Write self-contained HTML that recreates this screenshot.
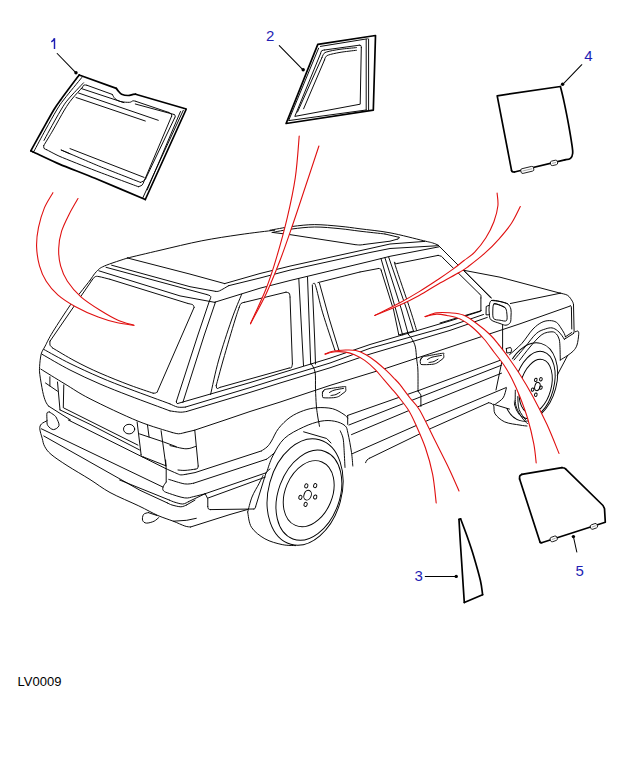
<!DOCTYPE html>
<html><head><meta charset="utf-8"><style>
html,body{margin:0;padding:0;background:#fff;width:626px;height:779px;overflow:hidden}
svg{position:absolute;left:0;top:0}
.k{fill:none;stroke:#000;stroke-width:0.95;stroke-linejoin:round;stroke-linecap:round}
.k2{fill:none;stroke:#000;stroke-width:1.7;stroke-linejoin:round;stroke-linecap:round}
.k3{fill:none;stroke:#000;stroke-width:1.05;stroke-linejoin:round;stroke-linecap:round}
.r{fill:none;stroke:#e01010;stroke-width:1.1;stroke-linecap:round}
.b{fill:#000;stroke:none}
.rf{fill:#fff;stroke:none}
.kf{fill:#fff;stroke:#000;stroke-width:0.85;stroke-linejoin:round}
text{font-family:"Liberation Sans",sans-serif}
.lab{fill:#1e1eb4;font-size:15px}
.code{fill:#000;font-size:13px}
</style></head><body>
<svg width="626" height="779" viewBox="0 0 626 779">
<ellipse class="k" cx="129.1" cy="429.1" rx="5.6" ry="4.8" transform="rotate(0 129.1 429.1)"/>
<path fill="#fff" stroke="none" d="M519.5,360.5C521.2,358.2 526.3,351.3 530,347C533.7,342.7 538.2,337.1 541.9,334.6C545.6,332.1 549.6,331.9 552,331.8C554.4,331.7 555.3,333 556.4,334C557.5,335 558.1,336.4 558.7,338C559.3,339.6 559.5,339.8 559.8,343.5C560.1,347.2 560.2,357.2 560.3,360L575,360L575,320L510,320L510,360.5Z"/>
<ellipse class="k" cx="530.5" cy="382" rx="26" ry="40" transform="rotate(15 530.5 382)"/>
<ellipse class="k" cx="534.3" cy="385" rx="19.5" ry="34.5" transform="rotate(15 534.3 385)"/>
<ellipse class="k" cx="535.7" cy="386.2" rx="15.5" ry="27.5" transform="rotate(15 535.7 386.2)"/>
<ellipse class="k" cx="537.4" cy="386.5" rx="2.6" ry="4.2" transform="rotate(15 537.4 386.5)"/>
<ellipse class="k" cx="535.8" cy="379.9" rx="1.3" ry="1.7" transform="rotate(15 535.8 379.9)"/>
<ellipse class="k" cx="540.9" cy="379.3" rx="1.3" ry="1.7" transform="rotate(15 540.9 379.3)"/>
<ellipse class="k" cx="540.9" cy="387.6" rx="1.3" ry="1.7" transform="rotate(15 540.9 387.6)"/>
<ellipse class="k" cx="535.8" cy="394.7" rx="1.3" ry="1.7" transform="rotate(15 535.8 394.7)"/>
<ellipse class="k" cx="532.6" cy="389.6" rx="1.3" ry="1.7" transform="rotate(15 532.6 389.6)"/>
<path fill="#fff" stroke="none" d="M519.5,360.5L505,358L498,408L513,408L515,392L517,372Z"/>
<ellipse class="k" cx="305.1" cy="492" rx="36.5" ry="54.2" transform="rotate(15.3 305.1 492)"/>
<ellipse class="k" cx="308.9" cy="495.2" rx="30.6" ry="46.6" transform="rotate(20.1 308.9 495.2)"/>
<ellipse class="k" cx="308.7" cy="493.7" rx="23.5" ry="34.4" transform="rotate(22.7 308.7 493.7)"/>
<ellipse class="k" cx="307.6" cy="495.2" rx="3.6" ry="5" transform="rotate(20 307.6 495.2)"/>
<ellipse class="k" cx="306.3" cy="485.9" rx="1.6" ry="2.1" transform="rotate(20 306.3 485.9)"/>
<ellipse class="k" cx="315.2" cy="485.6" rx="1.6" ry="2.1" transform="rotate(20 315.2 485.6)"/>
<ellipse class="k" cx="315.2" cy="497" rx="1.6" ry="2.1" transform="rotate(20 315.2 497)"/>
<ellipse class="k" cx="305.6" cy="504.4" rx="1.6" ry="2.1" transform="rotate(20 305.6 504.4)"/>
<ellipse class="k" cx="300.4" cy="497.3" rx="1.6" ry="2.1" transform="rotate(20 300.4 497.3)"/>
<path fill="#fff" stroke="none" d="M267,471.3C268,468.7 269.9,461.4 272.8,455.9C275.7,450.4 279.2,443.3 284.3,438.5C289.4,433.7 297.5,429.9 303.6,427C309.7,424.1 315.8,422.2 320.9,421.2C326,420.2 330.4,420.4 334.4,421.2C338.4,421.9 342.7,423.6 345,425.7C347.3,427.8 346.9,429 348,433.5C349.1,438 350.7,447.1 351.5,452.5C352.3,457.9 352.6,463.8 352.8,466L360,469.4L360,400L255,400L255,471.3Z"/>
<path class="k" d="M90,280.4C91.1,278.9 94,274 96.4,271.6C98.8,269.2 99.2,268.3 104.4,266C109.6,263.7 123.7,259.3 127.5,258"/>
<path class="k" d="M127.5,258C132.9,256.7 147.6,253.2 160,250.3C172.4,247.4 188.5,243.4 201.8,240.8C215.1,238.2 227.8,236.4 240,234.6C252.2,232.8 268.9,230.9 274.7,230.2"/>
<path class="k" d="M270,230.2C273.7,229.6 284.6,227.4 292,226.5C299.4,225.6 306.7,224.6 314.7,224.6C322.7,224.6 332.4,225.6 340,226.3C347.6,227 351.7,227.7 360,228.8C368.3,229.9 379.4,230.8 390,232.8C400.6,234.8 416.4,239 423.5,240.7C430.6,242.4 430.1,242.2 432.5,242.9C434.9,243.6 437.2,244.7 438.1,245.1"/>
<path class="k" d="M438.1,245.1 L457.1,264.1 L491.5,297.9"/>
<path class="k" d="M272,232.5C275.3,231.9 284.9,229.9 292,229C299.1,228.1 306.7,227.1 314.7,227C322.7,226.9 332.4,228 340,228.7C347.6,229.4 352.5,230.3 360,231.2C367.5,232.1 380.8,233.5 385,234"/>
<path class="k" d="M273,232.5 L289.2,234.5 L355,244.6"/>
<path class="k" d="M355,244.6C355.8,244.7 358.5,245 360,245C361.5,245 363.3,244.6 364,244.5"/>
<path class="k" d="M364,244.5 L390,241.2 L397.8,239"/>
<path class="k" d="M397.8,239C398.1,238.8 399.3,238.1 399.5,237.8C399.7,237.5 399,237.4 398.9,237.3"/>
<path class="k" d="M398.9,237.3 L385,234"/>
<path class="k" d="M127.5,258 L190,274.1 L224.7,283.6"/>
<path class="k" d="M224.7,283.6 L260,273.5 L290,266.1 L370,248.5 L390,244 L424.7,241.4"/>
<path class="k" d="M228.6,285.7 L260,278 L290,270.1 L370,252.5 L390,248.5 L438.1,245.7"/>
<path class="k" d="M214.5,302.3 L260,288.2 L290,280.5 L370,261.3 L390,256.3 L439.2,246.8"/>
<path class="k" d="M111.6,265.2 L190,286.7 L215.8,291.4"/>
<path class="k" d="M215.8,291.4C216.4,291.3 217.5,291.8 219.6,290.8C221.7,289.9 227.1,286.6 228.6,285.7"/>
<path class="k" d="M106,267.3 L190,290 L207,294.6"/>
<path class="k" d="M207,294.6C207.6,294.9 210.3,295.4 210.7,296.5C211.1,297.6 209.6,300.2 209.4,301"/>
<path class="k" d="M209.4,301 L197.9,335 L176.4,401.3"/>
<path class="k" d="M176.4,401.3C176.4,401.6 176.4,402.6 176.6,403C176.8,403.4 177.5,403.4 177.7,403.5"/>
<path class="k" d="M98.8,270.8 L180,295.9 L214.5,302.3"/>
<path class="k" d="M215.5,302 L204.3,335 L182.8,402.6"/>
<path class="k" d="M90,280.4C88.3,282.5 83.2,289 80,293C76.8,297 75.3,297.8 70.8,304.3C66.3,310.8 57.1,324.9 52.8,331.9C48.5,338.8 47.1,342.3 45.2,346C43.3,349.7 42.1,350.6 41.2,354C40.3,357.4 39.8,363.3 39.6,366.7C39.4,370.1 39.3,370.2 39.8,374.4C40.3,378.5 41.8,387.1 42.7,391.6C43.7,396.1 44.5,398.8 45.5,401.2C46.5,403.6 47.9,405.2 48.4,406"/>
<path class="k" d="M110,279.3C108.2,278.9 101.5,277 99,276.6C96.5,276.2 96.3,276.2 95.2,276.7C94.1,277.1 93,278.9 92.6,279.3"/>
<path class="k" d="M92.6,279.3 L50,341.2"/>
<path class="k" d="M50,341.2C50,341.9 49.6,344.1 50,345.2C50.4,346.3 52,347.2 52.4,347.6"/>
<path class="k" d="M52.4,347.9C56.2,350.1 67.1,356.8 75,361C82.9,365.2 90.8,369.1 100,373.1C109.2,377.1 121.1,381.9 130,385.2C138.9,388.5 149.3,391.9 153.2,393.2"/>
<path class="k" d="M153.2,393.2C153.6,393.2 154.8,393.2 155.5,393C156.2,392.8 156.9,392.2 157.2,392"/>
<path class="k" d="M157.2,392 L194.1,307.4"/>
<path class="k" d="M194.1,307.4C193.9,307 193.8,305.4 192.8,304.8C191.8,304.2 188.8,303.7 188,303.5"/>
<path class="k" d="M188,303.5 L110,279.3"/>
<path class="k" d="M43.8,349.4C48.2,351.8 60.6,358.9 70,363.5C79.4,368.1 90,373 100,377.3C110,381.6 118.3,384.8 130,389.2C141.7,393.6 163.3,401.4 170,403.9"/>
<path class="k" d="M170,403.9C171.3,404.4 175.1,406.6 177.7,407.1C180.2,407.6 184,407.1 185.3,407.1"/>
<path class="k" d="M42.3,354.4C46.9,357 60.4,365.1 70,370C79.6,374.9 90,379.7 100,384C110,388.3 118.3,391.5 130,396C141.7,400.5 163.3,408.4 170,410.9"/>
<path class="k" d="M170,410.9C171.7,411.1 177.4,412.1 180.2,412.2C183,412.3 185.5,411.6 186.6,411.5"/>
<path class="k" d="M40.8,369.1C44.8,371.6 56.8,379.1 65,384C73.2,388.9 77.8,392.6 90,398.8C102.2,405 124.2,415.5 137.9,421.1C151.6,426.7 166.5,430.6 172.2,432.5"/>
<path class="k" d="M172.2,432.5C173.3,432.7 176.5,433.8 178.6,433.8C180.7,433.8 183.9,432.7 185,432.5"/>
<path class="k" d="M185,432.5 L194.2,430.3"/>
<path class="k" d="M49.9,376.8 L49.9,385.9"/>
<path class="k" d="M45.5,383 L57.5,391.2"/>
<path class="k" d="M57.5,382 L60,409.9"/>
<path class="k" d="M63.8,384.9 L63.3,407.5"/>
<path class="k" d="M63.8,408 L137.9,445.1"/>
<path class="k" d="M60,409.9 L90,424.3 L139.5,449.9"/>
<path class="k" d="M137.1,421.9 L141.1,454.7"/>
<path class="k" d="M141.1,454.7C141.2,455 141.1,456.1 141.5,456.5C141.9,456.9 143.2,456.9 143.5,457"/>
<path class="k" d="M143.5,457 L165.9,465.8"/>
<path class="k" d="M147.5,425.1 L149.1,437.1"/>
<path class="k" d="M161.1,430.7 L165.9,465.8"/>
<path class="k" d="M139.5,433.9 L163.5,441.9 L176.3,446.7"/>
<path class="k" d="M49.4,412C49,412.2 47.4,411.7 47,413C46.6,414.3 46.9,417.9 47,420C47.1,422.1 46.7,424 47.8,425.6C48.9,427.2 51.5,429.6 53.4,429.6C55.3,429.6 58.5,427.5 59,425.6C59.5,423.7 57.3,419.7 56.5,418C55.7,416.3 55.4,416.2 54.2,415.2C53,414.2 50.2,412.5 49.4,412"/>
<path class="k" d="M47,420.8C46.1,421.3 42.6,422.7 41.4,424C40.2,425.3 39.7,426.4 39.8,428.8C39.9,431.2 41.4,435.4 42.2,438.3C43,441.2 43.1,443.6 44.6,446.3C46.1,449 47.3,451.1 51,454.3C54.7,457.5 60.5,461.3 67,465.5C73.5,469.7 82.8,475 90,479.5C97.2,484 101.9,488.1 110,492.5C118.1,496.9 130.8,502.1 138.8,505.9C146.8,509.7 152.2,513 157.9,515.5C163.7,518 168.8,519.5 173.3,521.2C177.8,523 181.9,525 184.8,526C187.7,527 189.6,526.8 190.5,527"/>
<path class="k" d="M190.5,527 L230,514.5 L247.5,509.5"/>
<path class="k" d="M41.4,428.8 L163,487.1"/>
<path class="k" d="M43.8,436 L140,490.3 L167.5,503"/>
<path class="k" d="M167.5,503C168.2,503.3 169.8,504.4 172,505C174.2,505.6 178.5,506.8 180.9,506.8C183.3,506.8 185.7,505.2 186.7,504.9"/>
<path class="k" d="M186.7,504.9 L195,500.1"/>
<path class="k" d="M119.6,480 L169.4,500.1"/>
<path class="k" d="M169.4,500.1C170.3,500.5 172.8,501.7 175,502.3C177.2,502.9 180.5,504.1 182.8,504C185.1,503.9 187.6,502 188.6,501.6"/>
<path class="k" d="M188.6,501.6 L205.2,493.7"/>
<path class="k" d="M68.3,420 L165.6,468.5"/>
<path class="k" d="M165.6,468.5C167.5,469.4 174.5,472.5 177.1,473.6C179.7,474.7 179.4,474.8 180.9,474.9C182.4,475 185.2,474.4 186,474.3"/>
<path class="k" d="M186,474.3 L195,472.6 L261.5,450.9"/>
<path class="k" d="M261.5,450.9C262.4,450.2 265.3,448.6 267,447C268.7,445.4 269.6,444.1 271.5,441C273.4,437.9 275.4,432.4 278.5,428.5C281.6,424.6 285.9,420.3 290.1,417.3C294.3,414.3 299.1,412.2 303.6,410.6C308.1,409 312.3,408 317.1,407.7C321.9,407.4 328,407.6 332.5,408.7C337,409.8 341.5,412.9 344,414.5C346.5,416.1 347.1,417.4 347.7,418"/>
<path class="k" d="M347.7,415.4 L347.7,424.4"/>
<path class="k" d="M48.4,406 L70.5,420"/>
<path class="k" d="M173.3,521.2 L186.7,520.3 L196.3,518.3"/>
<path class="k" d="M148.3,512.6C147.5,512.9 144.4,513.2 143.5,514.5C142.6,515.8 142.1,518.9 142.6,520.3C143.1,521.7 144.5,523 146.4,523.1C148.3,523.2 152,522.2 154.1,521.2C156.2,520.2 158.1,518 158.9,517.4"/>
<path class="k" d="M148.3,512.6 L157,515.5"/>
<path class="k" d="M239.1,307.6C239.4,306.9 240.1,304.4 241,303.5C241.9,302.6 243.9,302.5 244.5,302.3"/>
<path class="k" d="M244.5,302.3 L286,292.2"/>
<path class="k" d="M286,292.2C286.5,292.4 288.5,292.4 289.2,293.2C289.9,294 289.9,296.4 290,297"/>
<path class="k" d="M290,297 L292.4,364"/>
<path class="k" d="M292.4,364C292.2,364.6 292,366.8 291.5,367.5C291,368.2 289.6,367.9 289.2,368"/>
<path class="k" d="M289.2,368 L219.9,387.4"/>
<path class="k" d="M219.9,387.4C219.4,387.6 217.6,388.8 217,388.5C216.4,388.2 216.3,386 216.2,385.5"/>
<path class="k" d="M216.2,385.5C217.4,381.2 220.1,370.9 223.2,360C226.3,349.1 232.3,328.7 235,320C237.7,311.3 238.4,309.7 239.1,307.6"/>
<path class="k" d="M241.7,294.2C240,298.5 235.3,309 231.5,320C227.7,331 222.2,347.6 218.7,360C215.2,372.4 211.9,388.8 210.6,394.5"/>
<path class="k" d="M298.8,278.6 L303.5,365.6"/>
<path class="k" d="M307.5,277 L310.7,364"/>
<path class="k" d="M312.3,285 L314.7,340 L315.5,364"/>
<path class="k" d="M313.1,284.2C313.5,284.4 313.9,280.7 315.5,285.5C317.1,290.3 319.5,302.2 322.7,312.9C325.9,323.6 332.7,343.6 334.7,349.7"/>
<path class="k" d="M319.5,283.4 L329,318 L338.7,349.7"/>
<path class="k" d="M334.7,349.7 L335.6,351.6 L338.9,351.2 L338.7,349.7"/>
<path class="k" d="M317.9,282.6 L360,272"/>
<path class="k" d="M360,272 L378.5,268.5"/>
<path class="k" d="M378.5,268.5C378.9,268.6 380.2,268.6 380.6,268.9C381.1,269.2 381.1,270.2 381.2,270.5"/>
<path class="k" d="M381.2,270.5 L393.6,310 L398.8,334.9"/>
<path class="k" d="M381,258.6 L395.9,310 L402.6,334.9"/>
<path class="k" d="M384.9,257.7 L401.6,310 L408.3,334.3"/>
<path class="k" d="M388.7,257.2 L406.9,310 L413.5,331.1"/>
<path class="k" d="M416.6,330.4C415.6,327 413.8,320.8 410.3,310C406.8,299.2 397.8,273.5 395.4,265.8C393,258.1 395.5,264.3 395.9,263.9C396.3,263.5 397.5,263.5 397.8,263.4"/>
<path class="k" d="M397.8,263.4 L438.1,255.4"/>
<path class="k" d="M438.1,255.4C438.7,255.6 440.6,255.9 441.4,256.3C442.2,256.7 442.7,257.7 443,258"/>
<path class="k" d="M443,258 L479.5,293.9"/>
<path class="k" d="M479.5,293.9C479.7,294.2 480.7,294.8 480.9,295.5C481.1,296.2 480.9,297.6 480.9,298"/>
<path class="k" d="M480.9,298 L480.9,310.3"/>
<path class="k" d="M480.9,310.3C480.8,310.5 480.7,311.1 480.5,311.3C480.3,311.5 479.8,311.6 479.6,311.6"/>
<path class="k" d="M177.7,403.5 L250,382.6 L280,373.4 L330,358.2 L370,344.5 L450,320.9 L479.6,311.6"/>
<path class="k" d="M185.3,407.1 L250,387.6 L280,378.2 L330,363 L370,348.3 L450,326 L483.5,314.5"/>
<path class="k" d="M186.6,411.5 L250,392.4 L280,383 L330,367.8 L370,354.1 L450,330.4 L487.3,317.4"/>
<path class="k" d="M398.8,334.9 L413.5,331.1"/>
<path class="k" d="M194.2,430.3 L225,420 L250,411.5 L280,402.1 L330,385.4 L386.6,368.1 L450,347.1 L520,323.8 L570.3,306"/>
<path class="k" d="M311.2,363.8C311.9,365.2 314.4,367.9 315.1,372.2C315.8,376.4 315.3,383.8 315.5,389.3C315.7,394.8 316,400.7 316.3,405C316.6,409.3 317,411.4 317.5,415C318,418.6 319.2,424.4 319.5,426.3"/>
<path class="k" d="M408.3,334.3C408.9,335.1 411,337.3 412.2,339.4C413.4,341.5 414.7,343.9 415.4,347.1C416.1,350.3 416.2,354.8 416.6,358.6C417,362.4 417.7,364.6 417.9,370C418.1,375.4 418,387.6 418,391.1"/>
<path class="k" d="M418,391.1 L420.9,394.9 L420.9,406.4"/>
<path class="k" d="M502.6,325 L502.6,358"/>
<path class="k" d="M322.6,392.2C322.9,391.8 323.3,390.4 324.5,389.8C325.7,389.2 326.6,389.1 330,388.6C333.4,388.1 342,386.7 344.6,386.6C347.2,386.5 345.5,387.2 345.6,388C345.8,388.8 346.1,390.3 345.5,391.3C344.9,392.3 343.1,393.1 342,394C340.9,394.9 340,395.9 338.6,396.5C337.2,397.1 335.9,397.5 333.5,397.7C331.1,397.9 325.8,398 324,397.8C322.2,397.6 322.7,397.2 322.5,396.3C322.3,395.4 322.3,393.3 322.6,392.2C322.9,391.1 324.2,390.2 324.5,389.8"/>
<path class="k" d="M329.5,392.5C330.2,392.1 331.7,390.9 334,390.2C336.3,389.5 341.9,388.7 343.5,388.4"/>
<path class="k" d="M331,395.5C331.8,395.3 334.5,395.1 336,394.5C337.5,393.9 339.3,392.6 340,392.2"/>
<path class="k" d="M420.5,359.8C420.8,359.3 421.2,357.7 422.5,357C423.8,356.3 424.6,356.4 428,355.8C431.4,355.2 440,353.5 442.6,353.3C445.2,353.1 443.5,354 443.6,354.8C443.8,355.6 444.1,357 443.5,358C442.9,359 441.2,359.9 440,360.8C438.8,361.7 437.9,362.6 436.5,363.2C435.1,363.8 433.9,364.2 431.5,364.4C429.1,364.6 423.9,364.8 422,364.6C420.1,364.4 420.6,363.8 420.4,363C420.1,362.2 420.1,360.8 420.5,359.8C420.9,358.8 422.2,357.5 422.5,357"/>
<path class="k" d="M427.5,359.5C428.2,359.1 429.7,357.9 432,357.2C434.3,356.5 439.9,355.7 441.5,355.4"/>
<path class="k" d="M429,362.5C429.8,362.3 432.5,362.1 434,361.5C435.5,360.9 437.3,359.6 438,359.2"/>
<path class="k" d="M463.5,270 L490.7,297.9"/>
<path class="k" d="M464.3,270.4 L500,277.2 L559.9,293.1"/>
<path class="k" d="M559.9,293.1C561.2,293.5 565.6,294 567.7,295.4C569.8,296.8 571.3,299.7 572.3,301.2C573.3,302.7 573.3,304 573.5,304.6"/>
<path class="k" d="M573.5,304.6 L574.1,331"/>
<path class="k" d="M510.4,303.5 L560.8,293.1"/>
<path class="k" d="M570.3,305.6C570.4,305.8 571,306.1 571.2,306.5C571.4,306.9 571.4,307.8 571.4,308"/>
<path class="k" d="M571.4,308 L571.8,329"/>
<path class="k" d="M491.5,300.5C492.9,300.7 497.3,300.9 500,301.5C502.7,302.1 505.9,302.6 507.7,303.9C509.5,305.2 510.3,307.1 510.9,309.1C511.4,311.1 511.1,313.8 511,316C510.9,318.2 511.1,321 510.3,322.5C509.5,324 507.7,325 506,325.2C504.3,325.4 502.5,324.4 500,323.5C497.5,322.6 492.9,321.5 491.1,319.9C489.3,318.3 489.6,316.3 489.3,314C489,311.7 488.8,308.2 489.2,306C489.6,303.8 489.7,301.2 491.5,300.5C493.3,299.8 497.3,300.9 500,301.5C502.7,302.1 506.4,303.5 507.7,303.9"/>
<path class="k" d="M494,303.8C495,304 498.1,304.5 500,305.2C501.9,305.9 504.1,306.5 505.2,307.8C506.3,309.1 506.6,310.9 506.8,313C507,315.1 507.6,319.4 506.5,320.6C505.4,321.8 502.1,320.5 500,320.2C497.9,319.9 494.9,320.1 493.7,318.6C492.5,317.1 492.8,313.5 492.8,311C492.9,308.5 492.8,304.8 494,303.8C495.2,302.8 498.1,304.5 500,305.2C501.9,305.9 504.3,307.4 505.2,307.8"/>
<path class="k" d="M489.2,305.2 L486.2,306.5 L486,314.8 L489.2,314.8"/>
<path class="k" d="M481.1,310.7 L440,323"/>
<path class="k" d="M564.3,339.3 L573.8,333.3"/>
<path class="k" d="M565.4,336.8 L571.8,332.5"/>
<path class="k" d="M573.5,332.3C573.9,332.2 575.2,331.7 576,331.5C576.8,331.3 577.6,330.7 578.1,331.2C578.6,331.7 578.9,332.4 578.7,334.7C578.5,337 577.9,342.3 577,345C576.1,347.7 575,349.1 573.5,350.8C572,352.5 569.9,353.8 567.7,355.4C565.5,356.9 561.5,359.3 560.2,360.1"/>
<path class="k" d="M567.7,355.4 L557.3,375"/>
<path class="k" d="M509.5,354.7C511.6,352.8 517.9,347.8 521.8,343.5C525.7,339.2 529.6,332.5 533,329C536.4,325.5 539.1,323.7 541.9,322.3C544.7,320.9 547.3,320.6 549.7,320.6C552.1,320.6 554.5,321.1 556.4,322.3C558.3,323.5 559.6,326 560.9,327.9C562.2,329.8 563.5,332 564.3,333.5C565,335 565.2,336.2 565.4,336.8"/>
<path class="k" d="M514,360C515.9,357.8 521.4,351.3 525.1,346.9C528.8,342.5 532.9,336.5 536.3,333.5C539.7,330.5 542.7,329.9 545.3,329C547.9,328.1 550,327.6 552,327.9C554,328.2 555.9,329.4 557.6,330.7C559.3,332 560.9,334.3 562,335.7C563.1,337.1 563.9,338.7 564.3,339.3"/>
<path class="k" d="M519.5,360.5C521.2,358.2 526.3,351.3 530,347C533.7,342.7 538.2,337.1 541.9,334.6C545.6,332.1 549.6,331.9 552,331.8C554.4,331.7 555.3,333 556.4,334C557.5,335 558.1,336.4 558.7,338C559.3,339.6 559.5,339.8 559.8,343.5C560.1,347.2 560.2,357.2 560.3,360"/>
<path class="k" d="M515.3,390.2C515.4,392.8 514.8,401.1 515.9,405.6C517,410.1 519.8,414.2 521.7,417.2C523.6,420.2 526.5,422.5 527.5,423.6"/>
<path class="k" d="M517.8,396.6C518,398.8 517.8,405.6 519.1,409.5C520.4,413.4 524.4,418 525.5,419.7"/>
<path class="k" d="M347.7,415.4 L420,390 L499.9,360.4"/>
<path class="k" d="M348.9,425 L420,397.1 L501.5,365.2"/>
<path class="k" d="M351.5,434.6 L420,405.9 L501.5,373.2"/>
<path class="k" d="M352.1,453.8 L428,420.3 L506.3,387.5"/>
<path class="k" d="M365.6,462.7C365.8,462.2 366.4,460.7 367,460C367.6,459.3 369,458.6 369.4,458.3"/>
<path class="k" d="M369.4,458.3 L431.2,428.3 L488.7,402.7"/>
<path class="k" d="M488.7,402.7C489.5,403.1 492.4,403.2 493.5,405.1C494.6,407 493.2,411.1 495.1,413.9C497,416.7 500.6,420 504.7,421.9C508.8,423.8 516.3,424.4 520,425.1C523.7,425.8 525.8,425.9 527,426"/>
<path class="k" d="M493.5,404.3 L509.5,409.1"/>
<path class="k" d="M502.6,358 L496,390"/>
<path class="k" d="M506.3,388.3C505.8,389.9 504.9,395.3 503.1,397.9C501.3,400.5 496.8,403 495.5,404"/>
<path class="k" d="M506.3,348.5 L510.5,347.4 L511.6,349.5 L511,352.5 L506.8,353 L506.3,348.5"/>
<path class="k" d="M267,471.3C268,468.7 269.9,461.4 272.8,455.9C275.7,450.4 279.2,443.3 284.3,438.5C289.4,433.7 297.5,429.9 303.6,427C309.7,424.1 315.8,422.2 320.9,421.2C326,420.2 330.4,420.4 334.4,421.2C338.4,421.9 342.7,423.6 345,425.7C347.3,427.8 346.9,429 348,433.5C349.1,438 350.7,447.1 351.5,452.5C352.3,457.9 352.6,463.8 352.8,466"/>
<path class="k" d="M303.6,431.8 L326.7,438.5 L331,443"/>
<path class="k" d="M340.2,430.8C340.7,432 342.4,435.1 343,438C343.6,440.9 343.7,443.3 344,448.2C344.3,453.1 344.8,464.2 345,467.4"/>
<path class="k" d="M247.7,512C248.3,514.5 248.6,522.8 251.5,527.3C254.4,531.8 259.8,535.9 264.9,538.8C270,541.7 277.1,543.5 282.2,544.6C287.3,545.7 293.4,545.4 295.6,545.6"/>
<path class="k" d="M247.7,512C248.4,509.5 250.1,501.8 252,497C253.9,492.2 257.4,486.9 259.2,483.3C261,479.7 262.4,476.9 263,475.6"/>
<path class="k" d="M170,445.6C172.7,446.1 181.7,448.7 186,448.8C190.3,448.9 194,446.8 195.6,446.4"/>
<path class="k" d="M194.8,430.4 L198.2,466"/>
<path class="k" d="M198.2,466C198.1,466.4 198,468 197.5,468.5C197,469 195.4,469.1 195,469.2"/>
<path class="k" d="M195,469.2C193.3,469.4 187.8,470.3 185,470.4C182.2,470.5 179.2,470.1 178,470"/>
<path class="k" d="M165.6,460 L166.2,469.2 L166.2,482"/>
<path class="k" d="M166.2,482C165.7,482.9 163.4,485.6 163,487.1C162.6,488.6 162.5,489.8 163.6,490.9C164.7,492 165.9,492.3 169.4,493.5C172.9,494.7 180.6,497.4 184.7,497.9C188.8,498.4 190.3,497.3 193.7,496.6C197.1,495.9 203.3,494.2 205.2,493.7"/>
<path class="k" d="M168.8,479.4C171.5,480.1 180.5,483.3 184.7,483.9C188.8,484.5 192.2,483.3 193.7,483.2"/>
<path class="k" d="M193.7,483.2 L266.6,459.2"/>
<path class="k" d="M266.6,459.2C267.7,458.4 271.6,455.3 273,454.1C274.4,452.9 274.7,452.4 275,452"/>
<path class="k" d="M205.2,493.7 L266.6,472.6"/>
<path class="k" d="M207.8,498.1 L265.3,477.1"/>
<path class="k" d="M205.2,493.7 L207.8,498.8 L207.8,506.5"/>
<path class="k" d="M207.8,506.5C207.9,506.9 207.9,508.3 208.3,508.8C208.7,509.3 210,509.5 210.3,509.6"/>
<path class="k" d="M210.3,509.6 L253.8,509"/>
<path class="k" d="M253.8,509C254,508.9 254.7,508.8 255,508.5C255.3,508.2 255.4,507.2 255.5,507"/>
<path class="k" d="M255.5,507 L265.9,473.2"/>
<path class="k" d="M265.9,473.2C266.2,472.8 267.1,471.4 267.8,470.7C268.5,470 269.6,469.3 270,469"/>
<path class="k2" d="M79.2,75C76.2,79 65.5,93.2 61.3,99C57,104.8 56.9,104.8 53.7,110C50.6,115.2 46.2,123.2 42.4,130C38.6,136.8 32.7,147.3 30.8,150.8"/>
<path class="k2" d="M30.8,150.8 L33.2,152"/>
<path class="k2" d="M79.2,75 L116.3,88.4"/>
<path class="k2" d="M116.3,88.4C116.7,88.9 117.8,90.5 118.7,91.5C119.6,92.5 120,93.5 121.6,94.2C123.2,94.9 126.2,95.5 128.1,95.5C130,95.5 131.8,94.6 133.1,94.4C134.3,94.2 135.2,94.2 135.6,94.2"/>
<path class="k2" d="M135.6,94.2 L186.3,109 L145.3,199.5"/>
<path class="k2" d="M33.2,152C35.9,153.2 53.8,161.8 60,164.4C66.2,167 86.5,174.8 95,178.3C103.5,181.8 140.3,197.4 145.3,199.5"/>
<path class="k" d="M81.8,77.5C78.9,81.1 68.5,93.6 64.3,99C60.1,104.4 59.9,104.8 56.7,110C53.6,115.2 49.2,123.1 45.4,130C41.6,136.9 35.9,147.7 34,151.2"/>
<path class="k" d="M83.5,82.8C81,85.5 72.3,94.5 68.5,99C64.7,103.5 64,104.8 60.9,110C57.8,115.2 52.4,124.9 49.6,130C46.8,135.1 44.9,138.7 44,140.4"/>
<path class="k" d="M112.3,94.4C112.8,95.1 113.7,97.5 115.1,98.7C116.5,99.9 118.5,101 120.9,101.6C123.3,102.2 127.5,102.4 129.5,102.3C131.5,102.2 132,100.9 133.1,100.8C134.2,100.7 135.5,101.3 136,101.4"/>
<path class="k" d="M136,101.4 L168.3,112.3"/>
<path class="k" d="M168.3,112.3C168.8,112.5 170.6,113.1 171.2,113.8C171.8,114.5 171.5,115.8 171.6,116.2"/>
<path class="k" d="M171.6,116.2 L143.5,182.5"/>
<path class="k" d="M143.5,182.5C143.2,183 142.8,184.6 141.9,185.3C141,186 138.9,186.5 138.3,186.7"/>
<path class="k" d="M138.3,186.7C134,185.1 102.8,173.5 95,170.5C87.2,167.5 64.8,158.6 60,156.5C55.1,154.4 47.9,150.3 46.5,149.6"/>
<path class="k" d="M46.5,149.6C46.1,149.4 44.5,149.1 44,148.4C43.5,147.7 43.8,146 43.8,145.5"/>
<path class="k" d="M43.8,145.5C45.3,142.9 49.7,135.9 53.1,130C56.5,124.1 61.3,115.2 64.4,110C67.6,104.8 69,102.8 72,99C75,95.2 80.8,89.2 82.5,87.3"/>
<path class="k" d="M82.5,87.3C82.8,86.9 83.2,85.3 84,85C84.8,84.7 86.5,85.2 87,85.3"/>
<path class="k" d="M87,85.3 L112.3,94.4"/>
<path class="k" d="M81.2,88.5 L123.8,102.6"/>
<path class="k" d="M135.3,104 L174.1,114.5"/>
<path class="k" d="M174.1,114.5C174.3,114.8 175.2,115.4 175.3,116C175.4,116.6 174.7,117.7 174.6,118"/>
<path class="k" d="M174.6,118 L145.5,179"/>
<path class="k" d="M145.5,179C145.2,179.3 144.2,180.4 143.4,181C142.6,181.6 141,182.2 140.5,182.4"/>
<path class="k" d="M140.5,182.4C136.4,180.8 107.9,169.7 100,166.5C92.1,163.3 65.3,151.7 61.4,150.1"/>
<path class="k" d="M183.3,110.3 L142.6,198.3"/>
<path class="k" d="M180.5,111.5 L147.2,189.9"/>
<path class="k" d="M78.5,93 L158.3,120.3"/>
<path class="k" d="M76,97.5 L145.3,121"/>
<path class="k" d="M70,148.6 L144.1,177.4"/>
<path class="k" d="M61.1,150 L70,153.8"/>
<path class="k3" d="M57.2,53.5 L76,72.8"/>
<path class="k2" d="M317.8,44.4 L375.5,35.5 L373.3,110.2 L286.1,123.5 L317.8,44.4"/>
<path class="k" d="M318.6,48.2 L288.6,120.6 L366.2,110"/>
<path class="k" d="M320.4,46.4 L367.3,38.8"/>
<path class="k" d="M366.2,39.5 L366.2,110.2"/>
<path class="k" d="M368.6,39 L368.6,109.9"/>
<path class="k" d="M320.6,53.5C320.8,53 321,51.4 321.6,50.8C322.2,50.2 324,50.1 324.5,50"/>
<path class="k" d="M324.5,50 L359.3,45.2"/>
<path class="k" d="M359.3,45.2C359.6,45.3 360.7,45.2 361,45.6C361.3,46 361.2,47.2 361.3,47.5"/>
<path class="k" d="M361.3,47.5 L360.2,104.2 L294.8,116.4 L320.6,53.5"/>
<path class="k" d="M356.4,47.6C353.7,47.9 345,48.6 340,49.3C335,50 329.3,51.1 326.5,52C323.7,52.9 324.1,53.6 323.3,54.5C322.6,55.4 322.2,57 322,57.5"/>
<path class="k" d="M322,57.5 L297.5,112"/>
<path class="k" d="M356.4,50.3C353.7,50.6 344.6,51.6 340,52.4C335.4,53.2 330.9,54.2 328.5,55C326.1,55.8 326.2,56.5 325.5,57.3C324.8,58.1 324.7,59.5 324.5,60"/>
<path class="k" d="M324.5,60 L303.6,108.8"/>
<path class="k3" d="M279.3,45.6 L302.8,69.6"/>
<path class="k2" d="M511.6,170.6 L497.2,95.8 L560.4,86.5"/>
<path class="k2" d="M560.4,86.5C561,89 562.7,95.5 564,101.6C565.3,107.7 567,115.9 568.3,123.1C569.6,130.3 571.2,139.7 571.9,144.7C572.6,149.7 572.9,151 572.7,153.3C572.5,155.6 571.8,157.2 570.5,158.3C569.2,159.4 565.8,159.6 564.8,159.8"/>
<path class="k2" d="M564.8,159.8 L514.4,172"/>
<path class="k2" d="M514.4,172C514,172 512.8,172 512.3,171.8C511.8,171.6 511.7,170.8 511.6,170.6"/>
<path class="k3" d="M581.8,64.7 L562.3,84.8"/>
<path class="k2" d="M459,519.5C459.2,523.8 459.9,535.8 460.5,545C461.1,554.2 461.9,565.4 462.5,575C463.1,584.6 464,597.9 464.3,602.5"/>
<path class="k2" d="M459,519.2 L460.6,518.8"/>
<path class="k2" d="M460.6,518.8C461.7,521.7 464.8,529.8 467,536C469.2,542.2 471.5,548.8 473.7,556.2C475.9,563.6 478.9,574.1 480.4,580.5C481.9,586.9 482.2,592.3 482.6,594.7"/>
<path class="k2" d="M482.6,594.7 L464.3,602.5"/>
<path class="k3" d="M425.3,576.4 L456.2,576.4"/>
<path class="k2" d="M519.6,479C519.6,478.5 519.4,476.8 519.8,476C520.2,475.2 521.5,474.7 521.8,474.4"/>
<path class="k2" d="M521.8,474.4 L562,467.6"/>
<path class="k2" d="M562,467.6C562.4,467.7 563.6,467.8 564.2,468C564.8,468.2 565.5,468.9 565.8,469.1"/>
<path class="k2" d="M565.8,469.1 L603,505.5 L604.5,508.6 L605.3,522.2 L541.6,542.7"/>
<path class="k2" d="M541.6,542.7C541.4,542.7 540.8,542.9 540.5,542.8C540.2,542.7 540.1,542.1 540,542"/>
<path class="k2" d="M540,542 L519.6,479"/>
<path class="k3" d="M573.5,537 L576.8,552"/>
<path class="rf" d="M133.9,325.3C131.2,324.9 123.5,324.2 117.5,322.8C111.5,321.4 105.3,319.7 98.2,317C91.1,314.3 81.8,310.1 75.1,306.4C68.4,302.7 62.6,299 57.8,294.8C53,290.6 49.2,286.1 46.2,281.3C43.2,276.5 41.1,271.7 39.5,265.9C37.9,260.1 36.8,253.1 36.6,246.7C36.4,240.3 37.2,233.8 38.5,227.4C39.8,221 41.9,213.9 44.3,208.1C46.7,202.3 51.5,195.3 52.9,192.7L78,198.5C76.5,201.1 72,208.5 69.3,213.9C66.6,219.3 63.4,225.4 61.6,231.2C59.8,237 58.9,242.8 58.7,248.6C58.5,254.4 59.1,260.4 60.6,265.9C62.1,271.3 64,276.1 67.4,281.3C70.8,286.5 75.5,292 80.9,296.8C86.4,301.6 94,306.4 100.1,310.2C106.2,314 111.9,317.4 117.5,319.9C123.1,322.4 131.2,324.4 133.9,325.3Z"/>
<path class="rf" d="M250.5,323.7C253.1,317.8 261.9,299.4 266.3,288.2C270.7,277 273.3,268.5 276.8,256.6C280.3,244.8 284.3,230.3 287.4,217.1C290.5,203.9 293.3,191.1 295.3,177.6C297.3,164.1 298.6,143 299.2,136.1L318.9,146C316.7,152.6 310.2,172.3 305.8,185.5C301.4,198.7 297,212.3 292.6,225C288.2,237.7 283.9,250.4 279.5,261.8C275.1,273.2 271.1,283.1 266.3,293.4C261.5,303.7 253.1,318.6 250.5,323.7Z"/>
<path class="rf" d="M374.8,315.4C379,313.3 392.6,306.7 400,302.7C407.4,298.7 412.8,295.5 419.2,291.6C425.6,287.7 432.6,283 438.4,279.2C444.1,275.4 449.4,271.7 453.7,268.6C458,265.5 460.5,263.2 464,260.5C467.5,257.8 471.1,255.9 474.7,252.1C478.3,248.3 482.7,242.8 485.9,237.7C489.1,232.6 491.9,227 493.9,221.7C495.9,216.4 497.4,210.6 497.9,205.8C498.4,201 497.2,195.1 497.1,193L520.3,206.6C518.8,209.4 515.1,217.9 511.5,223.3C507.9,228.8 503.2,234.2 498.7,239.3C494.2,244.4 489.4,249.2 484.3,253.7C479.2,258.2 472.4,263.4 468.3,266.5C464.2,269.6 465,269.1 460,272C455,274.9 445.2,280.1 438.4,284C431.6,287.9 425.6,292 419.2,295.5C412.8,299 407.4,301.8 400,305.1C392.6,308.4 379,313.7 374.8,315.4Z"/>
<path class="rf" d="M325.1,354.1C326.8,353.7 331.9,352.1 335.3,351.8C338.7,351.5 342.4,351.6 345.6,352.1C348.8,352.6 351.3,353.3 354.5,354.7C357.7,356.1 361.3,357.9 364.7,360.4C368.1,362.8 371.8,366.2 375,369.4C378.2,372.6 381.1,376.4 383.9,379.6C386.7,382.8 389.2,385.8 391.6,388.6C394,391.4 395.2,392.6 398,396.2C400.8,399.8 405.5,405.4 408.4,410C411.3,414.6 412.6,417.5 415.4,423.8C418.2,430.1 422.5,439.4 425.4,447.8C428.3,456.2 430.8,465 432.6,474.2C434.4,483.4 435.6,498.2 436.2,503L459,491C457.4,487.4 453.4,477.8 449.4,469.4C445.4,461 440,450.5 435,440.6C430,430.7 423.8,417.1 419.6,410C415.4,402.9 413.3,402.2 410,398C406.7,393.8 402.6,388 400,384.7C397.4,381.4 396.4,380.6 394.1,378.3C391.9,376 389.5,373.5 386.5,370.7C383.5,367.9 379.6,364.4 376.2,361.7C372.8,359 369.4,356.6 366,354.7C362.6,352.8 359.2,351.3 355.8,350.5C352.4,349.7 349.4,349.9 345.6,350C341.8,350.1 336.2,350.5 332.8,351.2C329.4,351.9 326.4,353.6 325.1,354.1Z"/>
<path class="rf" d="M425.1,316.6C427,316.2 433,314.3 436.6,314.1C440.2,313.9 443.1,314.7 447,315.5C450.9,316.3 455.8,317.1 460,319C464.2,320.9 468,323.7 472,327C476,330.3 480.3,334.8 484,339C487.7,343.2 491,348.2 494.3,352.5C497.6,356.8 500.9,360.6 503.9,365C506.8,369.4 509.3,373.7 512,379C514.7,384.3 517.4,390.3 520,397C522.6,403.7 525.5,411.2 527.8,419C530.1,426.8 532.4,436.5 533.8,443.8C535.2,451.1 535.8,459.8 536.2,463L559,453.4C557,448.6 551.4,434.2 547,424.6C542.6,415 537.3,404.5 532.6,395.9C527.9,387.3 522.8,379 519,373C515.2,367 513.2,364.2 510,359.7C506.8,355.2 503.2,350.3 499.9,346.2C496.6,342.1 494.4,338.9 490.4,335C486.4,331.1 480.5,326.3 476,323C471.5,319.7 467.6,316.7 463.2,315C458.8,313.3 453.8,313.2 449.4,312.8C445,312.4 440.7,312.2 436.6,312.8C432.6,313.4 427,316 425.1,316.6Z"/>
<path class="r" d="M52.9,192.7C51.5,195.3 46.7,202.3 44.3,208.1C41.9,213.9 39.8,221 38.5,227.4C37.2,233.8 36.4,240.3 36.6,246.7C36.8,253.1 37.9,260.1 39.5,265.9C41.1,271.7 43.2,276.5 46.2,281.3C49.2,286.1 53,290.6 57.8,294.8C62.6,299 68.4,302.7 75.1,306.4C81.8,310.1 91.1,314.3 98.2,317C105.3,319.7 111.5,321.4 117.5,322.8C123.5,324.2 131.2,324.9 133.9,325.3"/>
<path class="r" d="M78,198.5C76.5,201.1 72,208.5 69.3,213.9C66.6,219.3 63.4,225.4 61.6,231.2C59.8,237 58.9,242.8 58.7,248.6C58.5,254.4 59.1,260.4 60.6,265.9C62.1,271.3 64,276.1 67.4,281.3C70.8,286.5 75.5,292 80.9,296.8C86.4,301.6 94,306.4 100.1,310.2C106.2,314 111.9,317.4 117.5,319.9C123.1,322.4 131.2,324.4 133.9,325.3"/>
<path class="r" d="M299.2,136.1C298.6,143 297.3,164.1 295.3,177.6C293.3,191.1 290.5,203.9 287.4,217.1C284.3,230.3 280.3,244.8 276.8,256.6C273.3,268.5 270.7,277 266.3,288.2C261.9,299.4 253.1,317.8 250.5,323.7"/>
<path class="r" d="M318.9,146C316.7,152.6 310.2,172.3 305.8,185.5C301.4,198.7 297,212.3 292.6,225C288.2,237.7 283.9,250.4 279.5,261.8C275.1,273.2 271.1,283.1 266.3,293.4C261.5,303.7 253.1,318.6 250.5,323.7"/>
<path class="r" d="M374.8,315.4C379,313.3 392.6,306.7 400,302.7C407.4,298.7 412.8,295.5 419.2,291.6C425.6,287.7 432.6,283 438.4,279.2C444.1,275.4 449.4,271.7 453.7,268.6C458,265.5 460.5,263.2 464,260.5C467.5,257.8 471.1,255.9 474.7,252.1C478.3,248.3 482.7,242.8 485.9,237.7C489.1,232.6 491.9,227 493.9,221.7C495.9,216.4 497.4,210.6 497.9,205.8C498.4,201 497.2,195.1 497.1,193"/>
<path class="r" d="M374.8,315.4C379,313.7 392.6,308.4 400,305.1C407.4,301.8 412.8,299 419.2,295.5C425.6,292 431.6,287.9 438.4,284C445.2,280.1 455,274.9 460,272C465,269.1 464.2,269.6 468.3,266.5C472.4,263.4 479.2,258.2 484.3,253.7C489.4,249.2 494.2,244.4 498.7,239.3C503.2,234.2 507.9,228.8 511.5,223.3C515.1,217.9 518.8,209.4 520.3,206.6"/>
<path class="r" d="M325.1,354.1C326.8,353.7 331.9,352.1 335.3,351.8C338.7,351.5 342.4,351.6 345.6,352.1C348.8,352.6 351.3,353.3 354.5,354.7C357.7,356.1 361.3,357.9 364.7,360.4C368.1,362.8 371.8,366.2 375,369.4C378.2,372.6 381.1,376.4 383.9,379.6C386.7,382.8 389.2,385.8 391.6,388.6C394,391.4 395.2,392.6 398,396.2C400.8,399.8 405.5,405.4 408.4,410C411.3,414.6 412.6,417.5 415.4,423.8C418.2,430.1 422.5,439.4 425.4,447.8C428.3,456.2 430.8,465 432.6,474.2C434.4,483.4 435.6,498.2 436.2,503"/>
<path class="r" d="M325.1,354.1C326.4,353.6 329.4,351.9 332.8,351.2C336.2,350.5 341.8,350.1 345.6,350C349.4,349.9 352.4,349.7 355.8,350.5C359.2,351.3 362.6,352.8 366,354.7C369.4,356.6 372.8,359 376.2,361.7C379.6,364.4 383.5,367.9 386.5,370.7C389.5,373.5 391.9,376 394.1,378.3C396.4,380.6 397.4,381.4 400,384.7C402.6,388 406.7,393.8 410,398C413.3,402.2 415.4,402.9 419.6,410C423.8,417.1 430,430.7 435,440.6C440,450.5 445.4,461 449.4,469.4C453.4,477.8 457.4,487.4 459,491"/>
<path class="r" d="M425.1,316.6C427,316.2 433,314.3 436.6,314.1C440.2,313.9 443.1,314.7 447,315.5C450.9,316.3 455.8,317.1 460,319C464.2,320.9 468,323.7 472,327C476,330.3 480.3,334.8 484,339C487.7,343.2 491,348.2 494.3,352.5C497.6,356.8 500.9,360.6 503.9,365C506.8,369.4 509.3,373.7 512,379C514.7,384.3 517.4,390.3 520,397C522.6,403.7 525.5,411.2 527.8,419C530.1,426.8 532.4,436.5 533.8,443.8C535.2,451.1 535.8,459.8 536.2,463"/>
<path class="r" d="M425.1,316.6C427,316 432.6,313.4 436.6,312.8C440.7,312.2 445,312.4 449.4,312.8C453.8,313.2 458.8,313.3 463.2,315C467.6,316.7 471.5,319.7 476,323C480.5,326.3 486.4,331.1 490.4,335C494.4,338.9 496.6,342.1 499.9,346.2C503.2,350.3 506.8,355.2 510,359.7C513.2,364.2 515.2,367 519,373C522.8,379 527.9,387.3 532.6,395.9C537.3,404.5 542.6,415 547,424.6C551.4,434.2 557,448.6 559,453.4"/>
<g transform="translate(527.3 169.9) rotate(-13.6)"><rect x="-6.5" y="-2.4" width="13" height="4.8" rx="1.6" fill="#fff" stroke="#000" stroke-width="0.8"/><line x1="-5.0" y1="0" x2="5.0" y2="0" stroke="#777" stroke-width="0.6"/></g><g transform="translate(554 162.9) rotate(-13.6)"><rect x="-3.5" y="-2.3" width="7" height="4.6" rx="1.6" fill="#fff" stroke="#000" stroke-width="0.8"/><line x1="-2.0" y1="0" x2="2.0" y2="0" stroke="#777" stroke-width="0.6"/></g><g transform="translate(553.7 538.9) rotate(-20)"><rect x="-3.5" y="-2.3" width="7" height="4.6" rx="1.6" fill="#fff" stroke="#000" stroke-width="0.8"/><line x1="-2.0" y1="0" x2="2.0" y2="0" stroke="#777" stroke-width="0.6"/></g><g transform="translate(593.9 526.4) rotate(-20)"><rect x="-3.5" y="-2.3" width="7" height="4.6" rx="1.6" fill="#fff" stroke="#000" stroke-width="0.8"/><line x1="-2.0" y1="0" x2="2.0" y2="0" stroke="#777" stroke-width="0.6"/></g>
<circle cx="76" cy="72.8" r="1.7" class="b"/>
<circle cx="303.2" cy="69.8" r="1.7" class="b"/>
<circle cx="562.6" cy="84.2" r="1.7" class="b"/>
<circle cx="456.2" cy="576.4" r="1.7" class="b"/>
<circle cx="573.4" cy="536.6" r="1.7" class="b"/>
<path d="M51.3,41.9 C52.6,41.2 53.9,40.1 54.5,38.3 L54.5,48.9" fill="none" stroke="#1e1eb4" stroke-width="1.45" stroke-linejoin="miter"/>
<text class="lab" x="266" y="41.4">2</text>
<text class="lab" x="584.3" y="60.7">4</text>
<text class="lab" x="414.4" y="581.4">3</text>
<text class="lab" x="575.5" y="575.8">5</text>
<text class="code" x="17.6" y="686">LV0009</text>

</svg>
</body></html>
